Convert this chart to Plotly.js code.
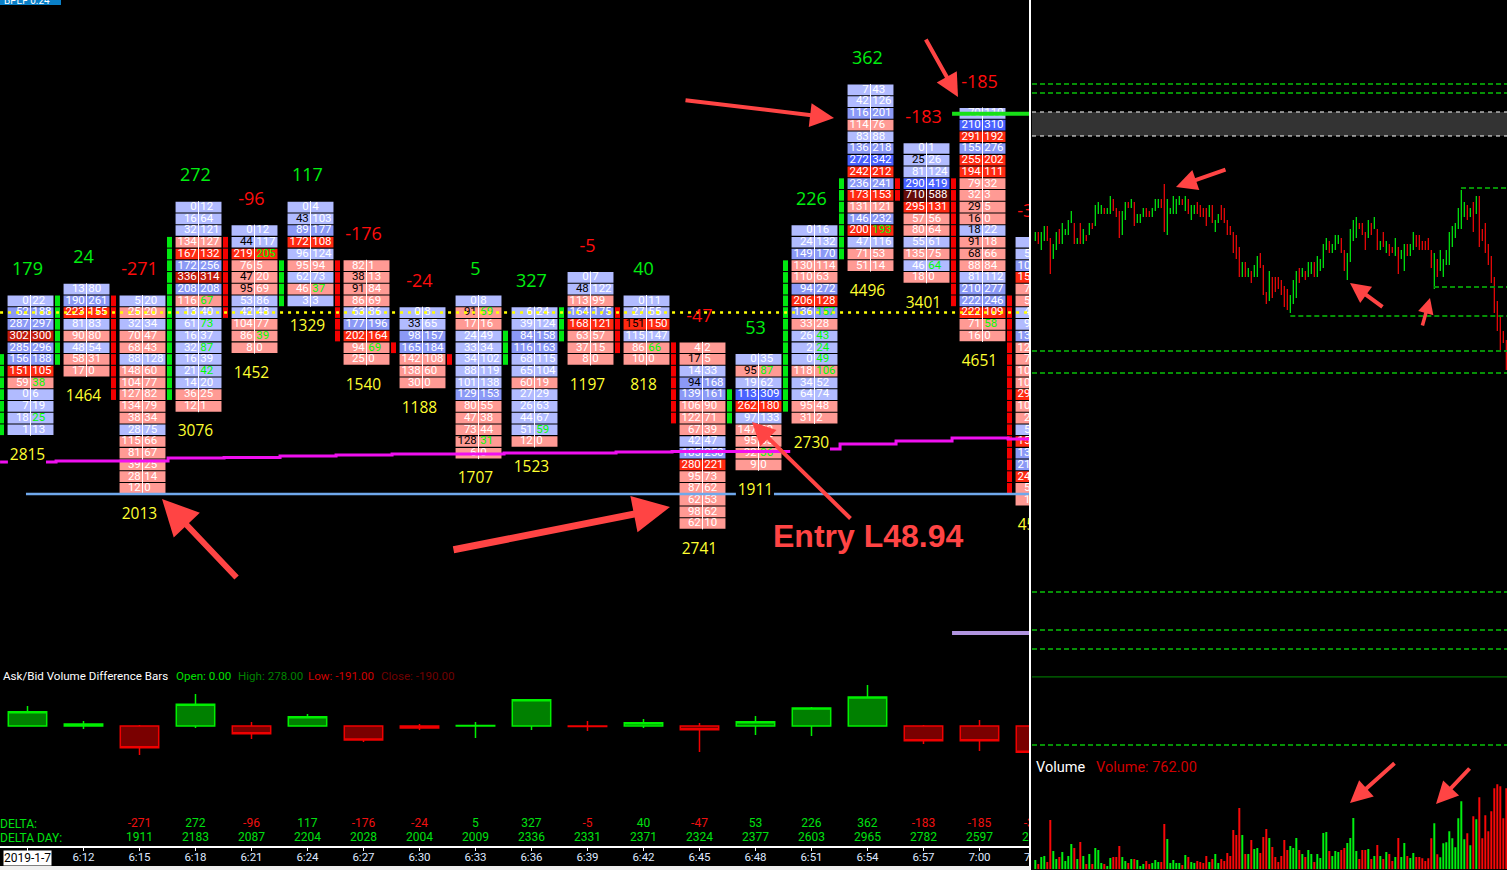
<!DOCTYPE html>
<html>
<head>
<meta charset="utf-8">
<script src="https://cdn.plot.ly/plotly-3.0.1.min.js"></script>
<style>
html, body { margin: 0; padding: 0; background: #000; overflow: hidden; }
</style>
</head>
<body>
<div id="chart" style="width:1507px;height:870px;"></div>
<script>
// footprint bars, "*" after a number: bid printed black / ask printed green
var timeLabels = ['', '6:12', '6:15', '6:18', '6:21', '6:24', '6:27', '6:30', '6:33', '6:36', '6:39', '6:42', '6:45', '6:48', '6:51', '6:54', '6:57', '7:00'];
var barTop = [49.04, 49.05, 49.04, 49.12, 49.10, 49.12, 49.07, 49.03, 49.04, 49.03, 49.06, 49.04, 49.00, 48.99, 49.10, 49.22, 49.17, 49.20, 49.09];
var barRows = [
    ['0|22', '52|188', '287|297', '302|300', '285|296', '156|188', '151|105', '59|38*', '0|6', '7|19', '18|25*', '1|13'],
    ['13|80', '190|261', '223|155', '81|83', '90|80', '48|54', '58|31', '17|0'],
    ['5|20', '25|20', '32|34', '70|47', '68|43', '88|128', '148|60', '104|77', '127|82', '134|79', '38|34', '28|75', '115|66', '81|67', '39|25', '28|14', '12|0'],
    ['0|12', '16|64', '32|121', '134|127', '167|132', '172|256', '336|314', '208|208', '116|67*', '13|40', '61|73*', '16|37', '32|87*', '16|39', '21|42*', '14|20', '36|25', '12|1'],
    ['0|12', '44*|117', '219|205*', '76|5', '47*|20', '95*|69', '53|86', '42|48', '104|77', '86|39*', '8|0'],
    ['0|4', '43*|103', '89|177', '172|108', '96|124', '95|94', '62|73', '46|37*', '3|3'],
    ['82|1', '38*|13', '91*|84', '86|69', '63|86', '177|196', '202|164', '94|69*', '25|0'],
    ['0|8', '33*|65', '98|157', '165|184', '142|108', '138|60', '30|0'],
    ['0|8', '91*|69*', '17|16', '24|49', '33|34', '34|102', '88|119', '101|138', '129|153', '80|55', '47|38', '73|44', '128*|31*', '6|0'],
    ['6|24', '39|124', '84|158', '116|163', '68|115', '65|104', '60|19', '27|29', '26|63', '44|67', '51|59*', '12|0'],
    ['0|7', '48*|122', '113|99', '164|175', '168|121', '63|57', '37|15', '8|0'],
    ['0|11', '27|55', '151*|150', '115|147', '86|66*', '10|0'],
    ['4|2', '17*|5', '14|33', '94*|168', '139|161', '106|90', '122|71', '67|39', '42|47', '185|250', '280|221', '95|73', '87|62', '62|53', '98|62', '62|10'],
    ['0|35', '95*|87*', '19|62', '113|309', '262|180', '97|133', '147|89', '95|55', '92|36*', '9|0'],
    ['0|16', '24|132', '149|170', '130|114', '110|63', '94|272', '206|128', '136|157*', '33|28', '26|43*', '2|24*', '0|49*', '118|106*', '34|52', '64|74', '95|48', '31|2'],
    ['7|43', '42|126', '116|201', '114|76', '83|88', '136|218', '272|342', '242|212', '236|241', '173|153', '131|121', '146|232', '200|193*', '47|116', '71|53', '51|14'],
    ['0|1', '25*|26', '81|124', '290|419', '710|588', '295|131', '57|56', '80|64', '55|61', '135|75', '46|64*', '18|0'],
    ['70|110', '210|310', '291|192', '155|276', '255|202', '194|111', '79|32', '32|3', '29*|5', '16*|0', '18*|22', '91*|18', '68*|66', '88|84', '81|112', '210|277', '222|246', '222|109', '71|58*', '16|0'],
    ['0|9', '52|88', '104|150', '156|88', '72|41', '58|30', '47|60', '96|130', '131|170', '122|80', '79|40', '105|60', '104|62', '291|190', '103|70', '27|15', '50|80', '152|90', '133|170', '214|280', '246|190', '52|30', '12|0']
];
var barDelta = [179, 24, -271, 272, -96, 117, -176, -24, 5, 327, -5, 40, -47, 53, 226, 362, -183, -185, -328];
var barTotal = [2815, 1464, 2013, 3076, 1452, 1329, 1540, 1188, 1707, 1523, 1197, 818, 2741, 1911, 2730, 4496, 3401, 4651, 4521];
var deltaDay = [null, null, 1911, 2183, 2087, 2204, 2028, 2004, 2009, 2336, 2331, 2371, 2324, 2377, 2603, 2965, 2782, 2597, 2269];
var deltaLabels = [null, null, -271, 272, -96, 117, -176, -24, 5, 327, -5, 40, -47, 53, 226, 362, -183, -185, -328];

// open/close strip beside each bar, as row prices
var stripHigh = [48.99, 49.04, 49.04, 49.09, 49.09, 49.07, 49.07, 49.00, 48.99, 49.01, 49.03, 49.03, 49.00, 48.96, 49.07, 49.14, 49.14, 49.14, 49.04];
var stripLow = [48.93, 48.99, 48.96, 48.96, 49.03, 49.04, 49.01, 49.00, 48.99, 48.99, 49.01, 49.00, 48.94, 48.94, 48.95, 49.08, 49.13, 49.04, 48.88];
var stripUp = [1, 1, 0, 1, 0, 1, 0, 0, 0, 1, 1, 0, 0, 1, 1, 1, 0, 0, 0];

// vwap steps
var vwapX = [-0.49, -0.35, null, 0.33, 0.51, 2.51, 3.51, 4.51, 5.51, 6.51, 8.51, 10.51, 11.51, 13.62, null, 14.33, 14.51, 15.51, 16.51, 17.51, 17.9];
var vwapY = [48.9025, 48.9025, null, 48.9025, 48.9034, 48.906, 48.9064, 48.9077, 48.9085, 48.9094, 48.9102, 48.9111, 48.9115, 48.9115, null, 48.9136, 48.9179, 48.9205, 48.923, 48.9222, 48.9222];
var priorClose = 49.03;
var lowLevel = 48.8752;
var highLevel = 49.1996;
var lavenderLevel = 48.7567;

// ask/bid difference candles
var diffHigh = [250, 62, 12, 400, 50, 150, 0, 25, 50, 327, 62, 87, 37, 125, 237, 512, 12, 75, 0];
var diffLow = [0, -37, -362, -25, -162, 0, -200, -50, -150, -50, -62, -25, -325, -112, -125, 0, -225, -312, -340];

// 1 minute bars on the right
var priceHigh = [
    49.26, 49.26, 49.26, 49.28, 49.28, 49.24, 49.22, 49.26, 49.27, 49.29,
    49.27, 49.30, 49.33, 49.29, 49.24, 49.29, 49.27, 49.25, 49.29, 49.29,
    49.35, 49.36, 49.35, 49.34, 49.34, 49.38, 49.37, 49.34, 49.33, 49.33,
    49.36, 49.36, 49.37, 49.36, 49.32, 49.32, 49.34, 49.34, 49.33, 49.34,
    49.37, 49.37, 49.37, 49.42, 49.37, 49.34, 49.38, 49.37, 49.38, 49.37,
    49.38, 49.37, 49.35, 49.35, 49.36, 49.35, 49.34, 49.34, 49.35, 49.35,
    49.30, 49.32, 49.35, 49.34, 49.30, 49.28, 49.26, 49.25, 49.21, 49.16,
    49.16, 49.14, 49.13, 49.15, 49.18, 49.19, 49.15, 49.06, 49.13,
    49.11, 49.11, 49.11, 49.10, 49.08, 49.07, 49.05, 49.10, 49.13, 49.14,
    49.14, 49.13, 49.16, 49.16, 49.16, 49.18, 49.17, 49.22, 49.24, 49.23,
    49.22, 49.25, 49.25, 49.24, 49.20, 49.19, 49.27, 49.30, 49.31, 49.29,
    49.29, 49.26, 49.30, 49.29, 49.31, 49.27, 49.23, 49.26, 49.23, 49.22,
    49.21, 49.24, 49.21, 49.20, 49.22, 49.22, 49.22, 49.26, 49.25, 49.25,
    49.23, 49.23, 49.24, 49.20, 49.19, 49.17, 49.20, 49.17, 49.20, 49.26,
    49.28, 49.29, 49.34, 49.40, 49.36, 49.35, 49.34, 49.36, 49.38, 49.38,
    49.27, 49.29, 49.22, 49.18, 49.11, 49.03, 48.98, 48.93, 48.90
];
var priceLow = [
    49.23, 49.22, 49.20, 49.23, 49.23, 49.12, 49.17, 49.20, 49.22, 49.22,
    49.25, 49.25, 49.29, 49.22, 49.22, 49.22, 49.22, 49.23, 49.25, 49.27,
    49.28, 49.32, 49.32, 49.32, 49.32, 49.32, 49.33, 49.31, 49.24, 49.25,
    49.30, 49.34, 49.34, 49.28, 49.29, 49.29, 49.31, 49.31, 49.31, 49.31,
    49.33, 49.34, 49.34, 49.26, 49.25, 49.32, 49.32, 49.32, 49.35, 49.35,
    49.33, 49.32, 49.30, 49.32, 49.32, 49.31, 49.31, 49.28, 49.31, 49.29,
    49.26, 49.29, 49.30, 49.29, 49.25, 49.25, 49.19, 49.17, 49.11, 49.11,
    49.11, 49.11, 49.09, 49.11, 49.11, 49.14, 49.05, 49.02, 49.03,
    49.04, 49.06, 49.07, 49.05, 49.01, 49.00, 48.99, 49.02, 49.04, 49.09,
    49.11, 49.10, 49.11, 49.12, 49.11, 49.11, 49.13, 49.14, 49.20, 49.19,
    49.19, 49.20, 49.22, 49.19, 49.13, 49.10, 49.16, 49.23, 49.24, 49.27,
    49.25, 49.20, 49.24, 49.25, 49.27, 49.20, 49.20, 49.21, 49.19, 49.18,
    49.19, 49.18, 49.12, 49.17, 49.13, 49.18, 49.18, 49.20, 49.21, 49.20,
    49.20, 49.20, 49.20, 49.14, 49.07, 49.11, 49.13, 49.11, 49.15, 49.15,
    49.21, 49.24, 49.27, 49.27, 49.31, 49.30, 49.31, 49.26, 49.32, 49.21,
    49.23, 49.19, 49.15, 49.09, 48.99, 48.93, 48.86, 48.89, 48.80
];
var priceDir = (
    'GRGGRRGGRG' + 'GGGRGRGRGR' + 'GGGRGGRRRG' + 'GRGRGGGRRG' + 'GGRRGGGGGR' +
    'GRGGRRRRGR' + 'GGRRRRRRRG' + 'RGRGGRRRG' +
    'RRRRRRGGGR' + 'GRGGRGGGGR' + 'GGGRRGGGGR' + 'RRGRGRGRGR' + 'RGRGGRGGRR' +
    'RRRRGRGGGG' + 'GGGGGRGRGR' + 'RRRRRRRRR'
).split('');
var volume = [
    88, 50, 116, 125, 69, 464, 172, 97, 116, 163,
    78, 125, 238, 201, 97, 257, 125, 50, 144, 50,
    201, 182, 60, 50, 31, 107, 116, 116, 219, 116,
    78, 60, 97, 97, 88, 31, 50, 78, 50, 60,
    88, 69, 69, 426, 285, 60, 88, 60, 60, 41,
    135, 116, 69, 60, 78, 69, 60, 125, 69, 97,
    144, 60, 97, 78, 154, 125, 370, 323, 577, 323,
    144, 144, 276, 191, 201, 154, 304, 379, 295, 210,
    116, 69, 125, 276, 182, 219, 201, 295, 182, 144,
    116, 182, 144, 69, 144, 107, 342, 351, 172, 125,
    172, 163, 182, 201, 248, 295, 483, 172, 97, 182,
    182, 191, 97, 125, 229, 125, 97, 163, 144, 78,
    116, 295, 116, 248, 125, 107, 154, 116, 116,
    103, 78, 103, 292, 433, 141, 113, 245, 254, 357,
    292, 207, 480, 640, 282, 339, 226, 498, 470, 677,
    292, 508, 357, 546, 762, 800, 781, 480, 762
];
// dashed levels on the right: price and first bar index
var levelPrice = [49.7533, 49.7233, 49.407, 49.077, 48.98, 48.863, 48.79, 48.06, 47.933, 47.87, 47.55];
var levelFrom = [-1.1, -1.1, 141.9, 132.9, 85, -1.1, -1.1, -1.1, -1.1, -1.1, -1.1];
var bandTop = 49.66;
var bandBottom = 49.58;
var panelLine = 47.777;

var W = 1507, H = 870;
var ROW = 0.01, CELL = 0.0091;
var FONT = 'Roboto, "Open Sans", sans-serif';
var GREEN = '#00ee10', RED = '#ff0c0c';

function px(x) { return x / W; }
function py(y) { return 1 - y / H; }

function cellColor(bid, ask) {
    if (ask >= bid) {
        if (ask >= 300) return '#4a62ff';
        if (ask >= 150) return '#8b99f6';
        return '#b1bbff';
    }
    if (bid >= 600) return '#640c0a';
    if (bid >= 300) return '#c41c0c';
    if (bid >= 150) return '#ff2a12';
    return '#ff9a94';
}

function makeFootprint() {
    var c = { x: [], base: [], h: [], colors: [], lx: [], rx: [], ly: [], lt: [], lc: [], rt: [], rc: [],
        sepX: [], sepY: [], stripX: [], stripBase: [], stripH: [], stripC: [] };
    for (var i = 0; i < barRows.length; i++) {
        var xc = i + 0.054;
        var rows = barRows[i];
        for (var r = 0; r < rows.length; r++) {
            var parts = rows[r].split('|');
            var bid = parseInt(parts[0]), ask = parseInt(parts[1]);
            var p = barTop[i] - r * ROW;
            c.x.push(xc);
            c.base.push(p - CELL / 2);
            c.h.push(CELL);
            c.colors.push(cellColor(bid, ask));
            c.lx.push(xc - 0.03);
            c.rx.push(xc + 0.03);
            c.ly.push(p);
            c.lt.push(String(bid));
            c.lc.push(parts[0].indexOf('*') > 0 ? '#000000' : '#ffffff');
            c.rt.push(String(ask));
            c.rc.push(parts[1].indexOf('*') > 0 ? '#00ff00' : '#ffffff');
        }
        c.sepX.push(xc, xc, null);
        c.sepY.push(barTop[i] + ROW / 2, barTop[i] - (rows.length - 0.5) * ROW, null);
        // open/close strip, one block per row
        var n = Math.round((stripHigh[i] - stripLow[i]) / ROW);
        for (var k = 0; k <= n; k++) {
            c.stripX.push(i - 0.464);
            c.stripBase.push(stripHigh[i] - k * ROW - CELL / 2);
            c.stripH.push(CELL);
            c.stripC.push(stripUp[i] ? '#00e810' : '#f40000');
        }
    }
    return c;
}

function makeTraces() {
    var fp = makeFootprint();
    var idx = barTop.map(function(v, i) { return i; });
    var traces = [];

    traces.push({ type: 'bar', x: fp.stripX, y: fp.stripH, base: fp.stripBase, width: 0.09,
        marker: { color: fp.stripC }, hoverinfo: 'skip', xaxis: 'x', yaxis: 'y' });
    traces.push({ type: 'bar', x: fp.x, y: fp.h, base: fp.base, width: 0.82,
        marker: { color: fp.colors }, hoverinfo: 'skip', xaxis: 'x', yaxis: 'y' });
    traces.push({ type: 'scatter', mode: 'lines', x: fp.sepX, y: fp.sepY,
        line: { color: '#ffffff', width: 1 }, hoverinfo: 'skip', xaxis: 'x', yaxis: 'y' });
    traces.push({ type: 'scatter', mode: 'text', x: fp.lx, y: fp.ly, text: fp.lt, textposition: 'middle left',
        textfont: { family: FONT, size: 11.5, color: fp.lc }, hoverinfo: 'skip', xaxis: 'x', yaxis: 'y' });
    traces.push({ type: 'scatter', mode: 'text', x: fp.rx, y: fp.ly, text: fp.rt, textposition: 'middle right',
        textfont: { family: FONT, size: 11.5, color: fp.rc }, hoverinfo: 'skip', xaxis: 'x', yaxis: 'y' });

    // levels over the cells
    traces.push({ type: 'scatter', mode: 'lines', x: [-0.49, 17.9], y: [priorClose, priorClose],
        line: { color: '#ffff00', width: 2.5, dash: '3px,5px' }, hoverinfo: 'skip', xaxis: 'x', yaxis: 'y' });
    traces.push({ type: 'scatter', mode: 'lines', x: vwapX, y: vwapY,
        line: { color: '#f010f0', width: 3, shape: 'hv' }, hoverinfo: 'skip', xaxis: 'x', yaxis: 'y' });
    traces.push({ type: 'scatter', mode: 'lines', x: [-0.027, 12.65, null, 13.33, 17.9], y: [lowLevel, lowLevel, null, lowLevel, lowLevel],
        line: { color: '#6fa8ec', width: 2.5 }, hoverinfo: 'skip', xaxis: 'x', yaxis: 'y' });
    traces.push({ type: 'scatter', mode: 'lines', x: [16.51, 17.9], y: [highLevel, highLevel],
        line: { color: '#18e018', width: 4 }, hoverinfo: 'skip', xaxis: 'x', yaxis: 'y' });
    traces.push({ type: 'scatter', mode: 'lines', x: [16.51, 17.9], y: [lavenderLevel, lavenderLevel],
        line: { color: '#b094e0', width: 4 }, hoverinfo: 'skip', xaxis: 'x', yaxis: 'y' });

    // delta above and total volume below each bar
    traces.push({ type: 'scatter', mode: 'text', x: idx,
        y: barTop.map(function(t) { return t + 0.0258; }),
        text: barDelta.map(String), textposition: 'middle center',
        textfont: { family: '"Open Sans", sans-serif', size: 18,
            color: barDelta.map(function(d) { return d < 0 ? RED : GREEN; }) },
        hoverinfo: 'skip', xaxis: 'x', yaxis: 'y' });
    traces.push({ type: 'scatter', mode: 'text', x: idx,
        y: barTop.map(function(t, i) { return t - (barRows[i].length - 1) * ROW - 0.0224; }),
        text: barTotal.map(String), textposition: 'middle center',
        textfont: { family: '"Open Sans", sans-serif', size: 15.5, color: '#ffff30' },
        hoverinfo: 'skip', xaxis: 'x', yaxis: 'y' });

    // ask/bid difference panel
    traces.push({ type: 'candlestick', x: idx, open: idx.map(function() { return 0; }),
        high: diffHigh, low: diffLow, close: barDelta, whiskerwidth: 0,
        increasing: { line: { color: '#00f000', width: 1.5 }, fillcolor: '#008000' },
        decreasing: { line: { color: '#f00000', width: 1.5 }, fillcolor: '#7a0000' },
        hoverinfo: 'skip', xaxis: 'x2', yaxis: 'y2' });
    traces.push({ type: 'scatter', mode: 'text', x: idx, y: idx.map(function() { return -1225; }),
        text: deltaLabels.map(function(d) { return d === null ? '' : String(d); }), textposition: 'middle center',
        textfont: { family: FONT, size: 12, color: deltaLabels.map(function(d) { return d < 0 ? '#f01010' : '#00e010'; }) },
        hoverinfo: 'skip', xaxis: 'x2', yaxis: 'y2' });
    traces.push({ type: 'scatter', mode: 'text', x: idx, y: idx.map(function() { return -1400; }),
        text: deltaDay.map(function(d) { return d === null ? '' : String(d); }), textposition: 'middle center',
        textfont: { family: FONT, size: 12, color: '#00e010' },
        hoverinfo: 'skip', xaxis: 'x2', yaxis: 'y2' });

    // right side bars and levels
    var ix = priceHigh.map(function(v, i) { return i; });
    var dirColors = priceDir.map(function(d) { return d === 'G' ? '#00f010' : '#f80808'; });
    var levelX = [], levelY = [];
    for (var l = 0; l < levelPrice.length; l++) {
        levelX.push(levelFrom[l], 157.23, null);
        levelY.push(levelPrice[l], levelPrice[l], null);
    }
    traces.push({ type: 'scatter', mode: 'lines', x: [-1.1, 157.23, null, -1.1, 157.23],
        y: [bandTop, bandTop, null, bandBottom, bandBottom],
        line: { color: '#ffffff', width: 1, dash: '4px,4px' }, hoverinfo: 'skip', xaxis: 'x3', yaxis: 'y3' });
    traces.push({ type: 'scatter', mode: 'lines', x: levelX, y: levelY,
        line: { color: '#069006', width: 2, dash: '5px,3px' }, hoverinfo: 'skip', xaxis: 'x3', yaxis: 'y3' });
    traces.push({ type: 'scatter', mode: 'lines', x: [-1.1, 157.23], y: [panelLine, panelLine],
        line: { color: '#008a00', width: 1 }, hoverinfo: 'skip', xaxis: 'x3', yaxis: 'y3' });
    traces.push({ type: 'bar', x: ix, y: priceHigh.map(function(h, i) { return h - priceLow[i]; }), base: priceLow,
        width: 0.4, marker: { color: dirColors }, hoverinfo: 'skip', xaxis: 'x3', yaxis: 'y3' });
    traces.push({ type: 'bar', x: ix, y: volume, width: 0.66,
        marker: { color: dirColors }, hoverinfo: 'skip', xaxis: 'x4', yaxis: 'y4' });

    return traces;
}

function label(text, x, y, color, size, anchor) {
    return { text: text, xref: 'paper', yref: 'paper', x: px(x), y: py(y), showarrow: false,
        xanchor: anchor || 'left', yanchor: 'middle', font: { family: FONT, size: size || 12, color: color } };
}

function arrow(hx, hy, tx, ty, w, s) {
    return { text: '', xref: 'paper', yref: 'paper', x: px(hx), y: py(hy), ax: tx - hx, ay: ty - hy,
        showarrow: true, arrowhead: 2, arrowsize: s, arrowwidth: w, arrowcolor: '#ff4444' };
}

function makeAnnotations() {
    return [
        label('Ask/Bid Volume Difference Bars', 1, 676, '#ffffff', 11.6),
        label('Open: 0.00', 174, 676, '#00e000', 11.6),
        label('High: 278.00', 236, 676, '#008000', 11.6),
        label('Low: -191.00', 306, 676, '#d00000', 11.6),
        label('Close: -190.00', 379, 676, '#700000', 11.6),
        label('DELTA:', -2, 824, '#00e010', 12),
        label('DELTA DAY:', -2, 838, '#00e010', 12),
        { text: '2019-1-7', xref: 'paper', yref: 'paper', x: px(27), y: py(858), showarrow: false,
            xanchor: 'center', yanchor: 'middle', bgcolor: '#ffffff', borderpad: 0,
            font: { family: FONT, size: 12, color: '#000000' } },
        label('7', 1022, 857, '#dfe8ff', 11.5),
        label('Volume', 1034, 767, '#ffffff', 14.5),
        label('Volume: 762.00', 1094, 767, '#d00000', 14.5),
        { text: 'BPEF 0.24', xref: 'paper', yref: 'paper', x: px(2), y: py(1), showarrow: false,
            xanchor: 'left', yanchor: 'middle', font: { family: FONT, size: 10, color: '#ffffff' } },
        { text: '<b>Entry L48.94</b>', xref: 'paper', yref: 'paper', x: px(868), y: py(536), showarrow: false,
            xanchor: 'center', yanchor: 'middle', font: { family: '"Liberation Sans", Arial, sans-serif', size: 32, color: '#ff4444' } },
        arrow(162, 499, 238, 579, 6, 1.2),
        arrow(670, 507, 452, 550, 7, 1.05),
        arrow(834, 118, 684, 100, 4, 1.2),
        arrow(958, 97, 925, 38, 4, 1.15),
        arrow(752, 422, 852, 520, 4, 1.15),
        arrow(1176, 187, 1227, 169, 4, 1.05),
        arrow(1350, 283, 1384, 308, 4, 1),
        arrow(1430, 298, 1422, 327, 3.5, 0.9),
        arrow(1350, 803, 1396, 762, 4, 1.1),
        arrow(1436, 804, 1471, 767, 4, 1.1)
    ];
}

var hidden = { visible: false, showgrid: false, zeroline: false, fixedrange: true };

function axis(extra) {
    return Object.assign({}, hidden, extra);
}

var layout = {
    width: W, height: H,
    margin: { l: 0, r: 0, t: 0, b: 0 },
    paper_bgcolor: '#000000', plot_bgcolor: '#000000',
    showlegend: false, barmode: 'overlay', boxgap: 0.02, hovermode: false,
    xaxis: axis({ domain: [0, px(1030)], range: [-0.491, 17.902], anchor: 'y' }),
    yaxis: axis({ domain: [py(665), 1], range: [48.7293, 49.2967], anchor: 'x' }),
    xaxis2: { domain: [0, px(1030)], range: [-0.491, 17.902], anchor: 'y2', visible: true, showgrid: false, zeroline: false,
        showline: true, linecolor: '#ffffff', linewidth: 1.5, ticks: 'outside', ticklen: 3, tickcolor: '#ffffff', tickwidth: 1,
        tickmode: 'array', tickvals: timeLabels.map(function(v, i) { return i; }), ticktext: timeLabels, ticklabelstandoff: -3,
        tickfont: { family: FONT, size: 11.5, color: '#dfe8ff' }, tickangle: 0, rangeslider: { visible: false }, fixedrange: true },
    yaxis2: axis({ domain: [py(846), py(665)], range: [-1500, 762.5], anchor: 'x2' }),
    xaxis3: axis({ domain: [px(1032), 1], range: [-1.1, 157.23], anchor: 'y3' }),
    yaxis3: axis({ domain: [py(755), 1], range: [47.5167, 50.0333], anchor: 'x3' }),
    xaxis4: axis({ domain: [px(1032), 1], range: [-1.1, 157.23], anchor: 'y4' }),
    yaxis4: axis({ domain: [py(869.3), py(755)], range: [0, 1075], anchor: 'x4' }),
    annotations: makeAnnotations(),
    shapes: [
        { type: 'rect', layer: 'below', xref: 'x3', yref: 'y3', x0: -1.1, x1: 157.23, y0: bandBottom, y1: bandTop,
            fillcolor: '#333333', line: { width: 0 } },
        { type: 'rect', xref: 'paper', yref: 'paper', x0: 0, x1: px(61), y0: py(5), y1: 1,
            fillcolor: '#0a80c8', line: { width: 0 }, layer: 'below' },
        { type: 'rect', xref: 'paper', yref: 'paper', x0: px(1029), x1: px(1031), y0: 0, y1: 1,
            fillcolor: '#ffffff', line: { width: 0 } },
        { type: 'rect', xref: 'paper', yref: 'paper', x0: 0, x1: px(1030), y0: 0, y1: py(866),
            fillcolor: '#f0f0f0', line: { width: 0 } }
    ]
};

Plotly.newPlot('chart', makeTraces(), layout, { displayModeBar: false, staticPlot: true });
</script>
</body>
</html>
